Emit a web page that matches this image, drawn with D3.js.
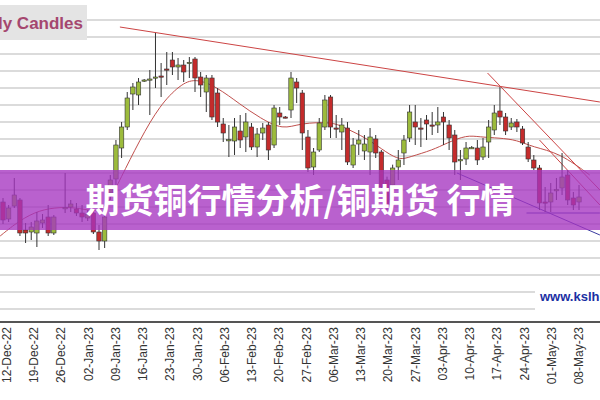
<!DOCTYPE html>
<html>
<head>
<meta charset="utf-8">
<script src="https://cdn.jsdelivr.net/npm/d3@7"></script>
<style>
body { margin: 0; background: #fff; }
svg { display: block; }
</style>
</head>
<body>
<div id="plot"></div>
<script>
let svgWidth = 600;
let svgHeight = 400;

// daily candles, one entry per weekday from 12-Dec-22 (null = holiday)
let opens  = [3.754,3.703,3.742,3.760,3.670,3.664,3.661,3.691,3.709,3.661,null,3.736,3.739,3.733,3.721,3.706,3.721,3.664,3.637,3.781,
  3.823,3.916,3.979,4.078,4.075,4.117,4.120,4.126,4.132,4.153,4.180,4.159,4.165,4.171,4.183,4.129,4.084,4.126,4.081,3.988,
  3.940,3.937,3.967,3.949,3.979,3.919,3.961,3.985,3.925,4.021,4.009,4.030,4.114,4.081,3.949,3.859,3.910,3.979,4.069,3.976,
  3.964,3.976,3.865,3.928,3.907,3.904,3.943,3.904,3.820,3.805,3.859,3.901,3.946,3.994,3.976,4.000,3.985,3.985,4.009,3.985,
  3.955,3.880,3.883,3.916,3.916,3.889,3.934,3.970,4.027,4.009,3.979,3.994,3.973,3.919,3.880,3.856,3.754,3.754,3.790,3.796,
  3.835,3.766,3.754];
let highs  = [3.766,3.745,3.826,3.766,3.691,3.694,3.724,3.718,3.745,3.715,null,3.841,3.760,3.751,3.745,3.730,3.730,3.685,3.724,3.835,
  3.940,3.994,4.084,4.111,4.126,4.123,4.150,4.261,4.171,4.204,4.204,4.186,4.180,4.189,4.189,4.144,4.135,4.135,4.096,4.006,
  3.985,4.006,4.015,4.021,3.991,3.976,3.991,3.994,4.045,4.039,4.012,4.144,4.126,4.090,3.970,3.916,4.006,4.075,4.075,4.015,
  4.006,3.994,3.946,3.970,3.955,3.976,3.955,3.910,3.830,3.866,3.910,3.955,4.045,4.045,4.006,4.015,4.024,4.039,4.024,4.000,
  3.970,3.910,3.934,3.922,3.940,3.946,4.000,4.045,4.099,4.021,4.006,4.003,3.982,3.934,3.895,3.865,3.799,3.811,3.826,3.901,
  3.850,3.784,3.805];
let lows   = [3.688,3.694,3.736,3.652,3.631,3.640,3.619,3.676,3.652,3.655,null,3.721,3.724,3.712,3.694,3.697,3.658,3.610,3.616,3.760,
  3.805,3.886,3.970,4.030,4.045,4.114,4.015,4.096,4.069,4.105,4.135,4.120,4.114,4.126,4.084,4.069,4.024,4.000,3.979,3.934,
  3.889,3.895,3.916,3.904,3.910,3.889,3.940,3.880,3.916,3.985,4.005,4.006,4.051,3.910,3.844,3.835,3.904,3.970,3.946,3.946,
  3.910,3.865,3.856,3.895,3.880,3.835,3.886,3.784,3.730,3.790,3.820,3.865,3.934,3.925,3.919,3.940,3.955,3.961,3.925,3.910,
  3.835,3.820,3.865,3.913,3.865,3.880,3.886,3.955,3.985,3.955,3.970,3.964,3.925,3.874,3.850,3.730,3.724,3.724,3.760,3.775,
  3.745,3.730,3.730];
let closes = [3.700,3.736,3.775,3.661,3.661,3.679,3.697,3.700,3.661,3.709,null,3.737,3.748,3.721,3.709,3.718,3.664,3.637,3.709,3.820,
  3.925,3.979,4.066,4.099,4.114,4.120,4.123,4.129,4.131,4.150,4.159,4.165,4.144,4.173,4.126,4.105,4.126,4.009,3.994,3.961,
  3.941,3.979,3.940,3.994,3.919,3.958,3.976,3.910,4.036,4.009,4.008,4.126,4.096,3.961,3.856,3.904,3.991,4.060,3.979,3.975,
  3.985,3.874,3.925,3.940,3.928,3.949,3.901,3.799,3.745,3.856,3.880,3.940,4.024,3.979,3.975,3.988,3.984,3.994,3.994,3.946,
  3.874,3.881,3.916,3.917,3.880,3.919,3.979,4.021,4.009,3.967,3.991,3.979,3.931,3.883,3.856,3.751,3.753,3.781,3.791,3.829,
  3.760,3.745,3.769];

// moving average (day index, price)
let maIdx   = [-0.5,3,6.5,10.1,13.6,17.2,18.9,20.7,24.2,27.8,31.3,34,37.9,41.9,45.5,49.6,52.6,58.4,60.2,64.4,68,70.3,72,76.1,78.6,82.1,84.4,87.9,91,93.8,98.6,103.9];
let maPrice = [3.652,3.700,3.730,3.739,3.736,3.721,3.760,3.820,3.940,4.045,4.105,4.126,4.099,4.048,4.006,3.970,3.991,3.994,3.979,3.946,3.901,3.880,3.889,3.910,3.931,3.955,3.949,3.946,3.940,3.919,3.901,3.835];

// drawn trend lines [idx1, price1, idx2, price2]
let resistLines = [[20.7,4.279,105.7,4.054],[85.8,4.141,105.7,3.790],[95,3.940,105.7,3.745]];
let supportLines = [[80.4,3.841,105.7,3.655],[92.7,3.721,105.7,3.721]];

let weekLabels = ["12-Dec-22","19-Dec-22","26-Dec-22","02-Jan-23","09-Jan-23","16-Jan-23","23-Jan-23","30-Jan-23",
  "06-Feb-23","13-Feb-23","20-Feb-23","27-Feb-23","06-Mar-23","13-Mar-23","20-Mar-23","27-Mar-23",
  "03-Apr-23","10-Apr-23","17-Apr-23","24-Apr-23","01-May-23","08-May-23"];

let svg = d3.select("#plot").append("svg")
    .attr("width", svgWidth)
    .attr("height", svgHeight)
    .style("font-family", "Arial, 'Liberation Sans', sans-serif");

let x = d3.scaleLinear().domain([0, 102]).range([3, 579]);
let y = d3.scaleLinear().domain([3.394, 4.36]).range([322, 0]);
let xWeek = d3.scalePoint().domain(weekLabels).range([7, 579]);

// grid
let gridVals = d3.range(18).map(k => 4.30 - k * 0.051);
svg.append("g").selectAll("line").data(gridVals).join("line")
    .attr("x1", 0)
    .attr("x2", d => y(d) > 280 ? 535 : svgWidth)
    .attr("y1", d => y(d)).attr("y2", d => y(d))
    .attr("stroke", "#cfcfcf").attr("stroke-width", 1.5);

// title box (text runs past the left edge, as in the source image)
svg.append("rect").attr("x", 0).attr("y", 5).attr("width", 87).attr("height", 35).attr("fill", "#e4e4e4");
svg.append("text").attr("x", 83).attr("y", 29).attr("text-anchor", "end")
    .attr("font-size", 17).attr("font-weight", "bold").attr("fill", "#a5476f")
    .text("Daily Candles");

// lines
let maLine = d3.line().x(d => x(d[0])).y(d => y(d[1])).curve(d3.curveBasis);
svg.append("path").datum(maIdx.map((d, i) => [d, maPrice[i]]))
    .attr("d", maLine).attr("fill", "none").attr("stroke", "#c0504d").attr("stroke-width", 1);

svg.append("g").selectAll("line").data(resistLines).join("line")
    .attr("x1", d => x(d[0])).attr("y1", d => y(d[1]))
    .attr("x2", d => x(d[2])).attr("y2", d => y(d[3]))
    .attr("stroke", "#cc4444").attr("stroke-width", 1);
svg.append("g").selectAll("line").data(supportLines).join("line")
    .attr("x1", d => x(d[0])).attr("y1", d => y(d[1]))
    .attr("x2", d => x(d[2])).attr("y2", d => y(d[3]))
    .attr("stroke", "#3a3aa0").attr("stroke-width", 1);

// candles
let candles = opens.map((o, i) => ({i: i, o: o, h: highs[i], l: lows[i], c: closes[i]})).filter(d => d.o != null);
let cg = svg.append("g").selectAll("g").data(candles).join("g");
cg.append("line")
    .attr("x1", d => x(d.i)).attr("x2", d => x(d.i))
    .attr("y1", d => y(d.h)).attr("y2", d => y(d.l))
    .attr("stroke", "#333").attr("stroke-width", 1);
cg.append("rect")
    .attr("x", d => x(d.i) - 2.2).attr("width", 4.4)
    .attr("y", d => y(Math.max(d.o, d.c)))
    .attr("height", d => Math.max(1.2, Math.abs(y(d.o) - y(d.c))))
    .attr("fill", d => d.c >= d.o ? "#9cbb3c" : "#c42b2b")
    .attr("stroke", "#333").attr("stroke-width", 0.6);

// x axis
svg.append("line").attr("x1", 0).attr("x2", svgWidth).attr("y1", 322).attr("y2", 322)
    .attr("stroke", "#555").attr("stroke-width", 2);
svg.append("g").selectAll("text").data(weekLabels).join("text")
    .attr("transform", d => `translate(${xWeek(d) + 4},327) rotate(-90)`)
    .attr("text-anchor", "end")
    .attr("font-size", 12).attr("fill", "#333")
    .text(d => d);

svg.append("text").attr("x", 540).attr("y", 301)
    .attr("font-size", 13).attr("font-weight", "bold").attr("fill", "#1b2fa3")
    .text("www.kslhub.com");

// banner
svg.append("rect").attr("x", 0).attr("y", 170).attr("width", svgWidth).attr("height", 60)
    .attr("fill", "#a535c0").attr("opacity", 0.78);
svg.append("text").attr("x", 300).attr("y", 213).attr("text-anchor", "middle")
    .attr("font-family", "'Noto Sans CJK SC', sans-serif")
    .attr("font-size", 34).attr("font-weight", "bold").attr("fill", "#fff")
    .text("期货铜行情分析/铜期货 行情");
</script>
</body>
</html>
